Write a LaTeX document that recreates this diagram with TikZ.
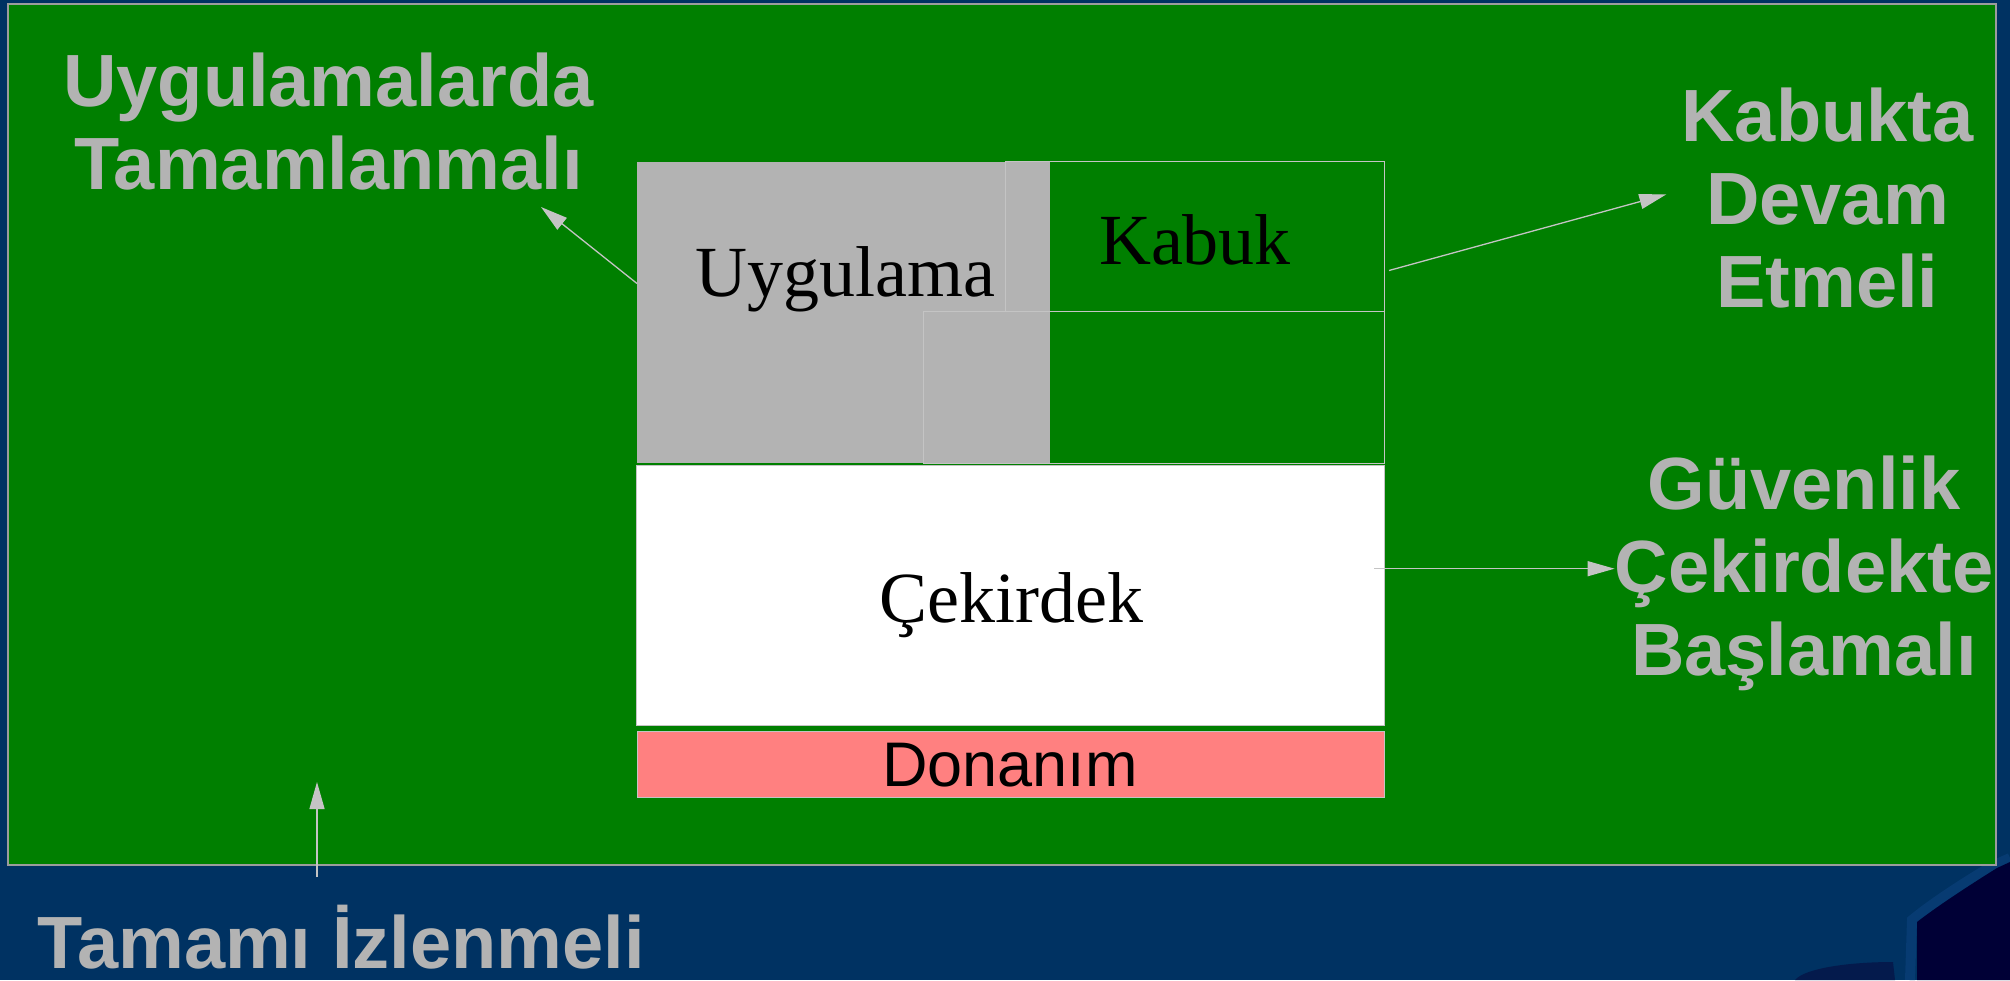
\documentclass[tikz,border=0pt]{standalone}
\usepackage{fontspec}
\setmainfont{Liberation Serif}
\newfontfamily\labelsans{Liberation Sans}
\usetikzlibrary{arrows.meta,calc}

\definecolor{slidebg}{HTML}{003262}
\definecolor{swoosh}{HTML}{000036}
\definecolor{swooshband}{HTML}{041A4C}
\definecolor{swooshedge}{HTML}{073B72}
\definecolor{panelgreen}{HTML}{007F00}
\definecolor{panelrule}{HTML}{9C9C9C}
\definecolor{appgray}{HTML}{B3B3B3}
\definecolor{hwred}{HTML}{FF8080}
\definecolor{labelgray}{HTML}{B3B3B3}
\definecolor{rulegray}{HTML}{C4C4C4}

\tikzset{
  box/.style={rectangle, inner sep=0pt, outer sep=0pt, anchor=north west},
  layertext/.style={inner sep=0pt, anchor=base, font=\fontsize{72}{80}\selectfont},
  hwtext/.style={inner sep=0pt, anchor=base, font=\labelsans\fontsize{63}{70}\selectfont},
  callout/.style={inner sep=0pt, align=center, text=labelgray,
    font=\labelsans\bfseries\fontsize{74}{83}\selectfont},
  pointer/.style={draw=rulegray, line width=1.3pt, -{Triangle[length=27pt,width=15pt]}},
}

\begin{document}
\begin{tikzpicture}[x=1pt, y=-1pt]
  \useasboundingbox (0,0) rectangle (2010,980);

  % slide background and corner swoosh
  \fill[slidebg] (0,0) rectangle (2010,980);
  \fill[swooshband] (1795,980) .. controls (1805,968) and (1850,962) .. (1893,962)
        -- (1895,980) -- cycle;
  \draw[swooshedge, line width=10pt] (2010,858) -- (1992,866) .. controls (1960,885) and (1930,905) .. (1912,920)
        -- (1910,980);
  \fill[swoosh] (2010,862) -- (1997,868) .. controls (1965,888) and (1935,908) .. (1917,922)
        -- (1917,980) -- (2010,980) -- cycle;

  % green panel
  \node[box, fill=panelgreen, draw=panelrule, line width=1.5pt,
        minimum width=1988pt, minimum height=861pt] (panel) at (8,4) {};

  % layer boxes
  \node[box, fill=appgray, minimum width=413pt, minimum height=301.5pt] (app) at (637,161.5) {};
  \node[box, draw=rulegray, line width=1pt, minimum width=379pt, minimum height=150pt] (shell) at (1005,161.5) {};
  \node[box, draw=rulegray, line width=1pt, minimum width=461pt, minimum height=151.5pt] (shellbase) at (923,311.5) {};
  \node[box, fill=white, draw=rulegray, line width=1pt, minimum width=748pt, minimum height=260.5pt] (kernel) at (636,465) {};
  \node[box, fill=hwred, draw=rulegray, line width=1pt, minimum width=747pt, minimum height=66pt] (hw) at (637,731) {};

  % layer names
  \node[layertext] (apptxt) at (845,296) {Uygulama};
  \node[layertext] (shelltxt) at (1195,264) {Kabuk};
  \node[layertext] (kerneltxt) at (1011,622) {Çekirdek};
  \node[hwtext] (hwtxt) at (1010,786) {Donanım};

  % callouts
  \node[callout, anchor=north] (appnote) at (328.5,53) {Uygulamalarda\\Tamamlanmalı};
  \node[callout, anchor=north] (shellnote) at (1827.5,88) {Kabukta\\Devam\\Etmeli};
  \node[callout, anchor=north] (kernelnote) at (1804,456) {Güvenlik\\Çekirdekte\\Başlamalı};
  \node[callout, anchor=base] (wholenote) at (341,968) {Tamamı İzlenmeli};

  % pointers
  \coordinate (appnotetip) at (541,207);
  \coordinate (wholetail) at (317,877);
  \coordinate (wholetip) at (317,782);
  \draw[pointer] ($(app.north west)+(0,122)$) -- (appnotetip);
  \draw[pointer] ($(shell.east)+(5,34)$) -- ($(shellnote.west)+(-15,-4)$);
  \draw[pointer] ($(kernel.east |- kernelnote.west)+(-10,-5)$) -- ($(kernelnote.west)+(0,-5)$);
  \draw[pointer] (wholetail) -- (wholetip);
\end{tikzpicture}
\end{document}
